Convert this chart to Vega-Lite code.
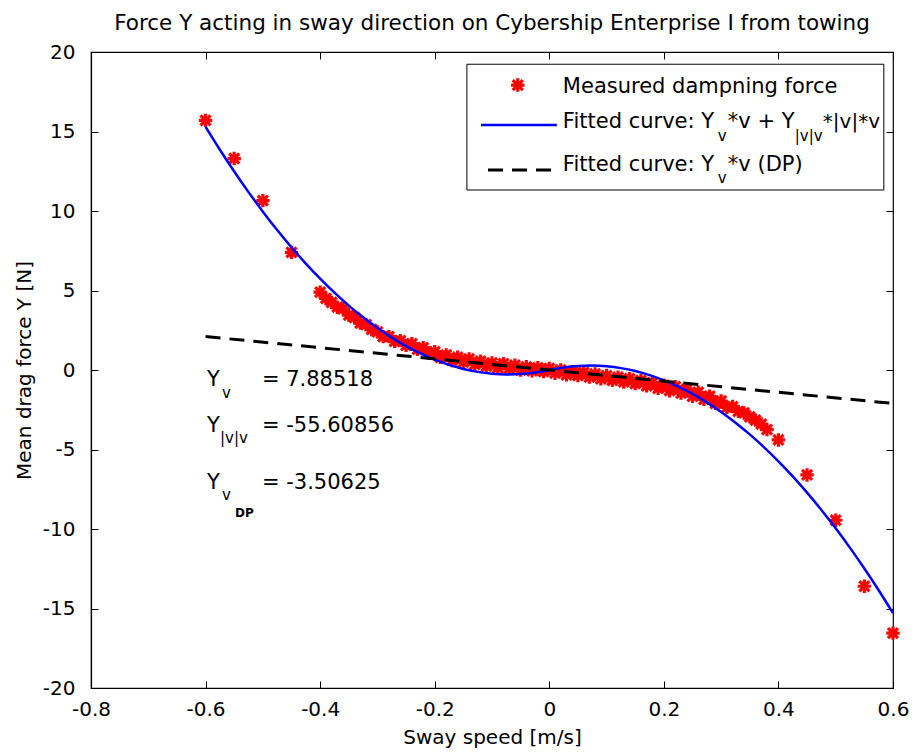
{
  "$schema": "https://vega.github.io/schema/vega-lite/v6.json",
  "width": 802,
  "height": 636,
  "autosize": {"type": "none"},
  "padding": {"left": 91, "top": 52, "right": 19, "bottom": 66},
  "background": "white",
  "title": {"text": "Force Y acting in sway direction on Cybership Enterprise I from towing", "font": "DejaVu Sans", "fontSize": 21.5, "fontWeight": "normal", "color": "black", "offset": 8},
  "datasets": {
    "measured": [
      {"v": -0.60, "Y": 15.7}, {"v": -0.55, "Y": 13.3}, {"v": -0.50, "Y": 10.65}, {"v": -0.45, "Y": 7.4},
      {"v": -0.40, "Y": 4.9}, {"v": -0.39, "Y": 4.5}, {"v": -0.38, "Y": 4.25}, {"v": -0.37, "Y": 3.95}, {"v": -0.36, "Y": 3.85}, {"v": -0.35, "Y": 3.45}, {"v": -0.34, "Y": 3.3},
      {"v": -0.33, "Y": 2.95}, {"v": -0.32, "Y": 2.85}, {"v": -0.31, "Y": 2.55}, {"v": -0.30, "Y": 2.4}, {"v": -0.29, "Y": 2.1}, {"v": -0.28, "Y": 2.1}, {"v": -0.27, "Y": 1.8}, {"v": -0.26, "Y": 1.85},
      {"v": -0.25, "Y": 1.55}, {"v": -0.24, "Y": 1.65}, {"v": -0.23, "Y": 1.3}, {"v": -0.22, "Y": 1.4}, {"v": -0.21, "Y": 1.05}, {"v": -0.20, "Y": 1.15}, {"v": -0.19, "Y": 0.8}, {"v": -0.18, "Y": 0.95},
      {"v": -0.17, "Y": 0.6}, {"v": -0.16, "Y": 0.8}, {"v": -0.15, "Y": 0.5}, {"v": -0.14, "Y": 0.7}, {"v": -0.13, "Y": 0.35}, {"v": -0.12, "Y": 0.55}, {"v": -0.11, "Y": 0.25}, {"v": -0.10, "Y": 0.45},
      {"v": -0.09, "Y": 0.15}, {"v": -0.08, "Y": 0.4}, {"v": -0.07, "Y": 0.1}, {"v": -0.06, "Y": 0.3}, {"v": -0.05, "Y": 0.0}, {"v": -0.04, "Y": 0.2}, {"v": -0.03, "Y": -0.05}, {"v": -0.02, "Y": 0.15},
      {"v": -0.01, "Y": -0.1}, {"v": 0.00, "Y": 0.1}, {"v": 0.01, "Y": -0.2}, {"v": 0.02, "Y": 0.0}, {"v": 0.03, "Y": -0.3}, {"v": 0.04, "Y": -0.1}, {"v": 0.05, "Y": -0.35}, {"v": 0.06, "Y": -0.15},
      {"v": 0.07, "Y": -0.45}, {"v": 0.08, "Y": -0.25}, {"v": 0.09, "Y": -0.55}, {"v": 0.10, "Y": -0.35}, {"v": 0.11, "Y": -0.65}, {"v": 0.12, "Y": -0.45}, {"v": 0.13, "Y": -0.75}, {"v": 0.14, "Y": -0.55},
      {"v": 0.15, "Y": -0.85}, {"v": 0.16, "Y": -0.65}, {"v": 0.17, "Y": -1.0}, {"v": 0.18, "Y": -0.8}, {"v": 0.19, "Y": -1.15}, {"v": 0.20, "Y": -0.95}, {"v": 0.21, "Y": -1.3}, {"v": 0.22, "Y": -1.05},
      {"v": 0.23, "Y": -1.45}, {"v": 0.24, "Y": -1.2}, {"v": 0.25, "Y": -1.65}, {"v": 0.26, "Y": -1.4}, {"v": 0.27, "Y": -1.85}, {"v": 0.28, "Y": -1.65}, {"v": 0.29, "Y": -2.1}, {"v": 0.30, "Y": -1.95},
      {"v": 0.31, "Y": -2.35}, {"v": 0.32, "Y": -2.3}, {"v": 0.33, "Y": -2.6}, {"v": 0.34, "Y": -2.7}, {"v": 0.35, "Y": -2.95}, {"v": 0.36, "Y": -3.15}, {"v": 0.37, "Y": -3.4}, {"v": 0.38, "Y": -3.75},
      {"v": 0.40, "Y": -4.4}, {"v": 0.45, "Y": -6.6}, {"v": 0.50, "Y": -9.45}, {"v": 0.55, "Y": -13.6},
      {"v": 0.60, "Y": -16.55}
    ],
    "fitted": [
      {"v": -0.6, "Y": 15.288}, {"v": -0.575, "Y": 13.852}, {"v": -0.55, "Y": 12.485}, {"v": -0.525, "Y": 11.187},
      {"v": -0.5, "Y": 9.960}, {"v": -0.475, "Y": 8.801}, {"v": -0.45, "Y": 7.712}, {"v": -0.425, "Y": 6.693},
      {"v": -0.4, "Y": 5.743}, {"v": -0.375, "Y": 4.863}, {"v": -0.35, "Y": 4.052}, {"v": -0.325, "Y": 3.311},
      {"v": -0.3, "Y": 2.639}, {"v": -0.275, "Y": 2.037}, {"v": -0.25, "Y": 1.504}, {"v": -0.225, "Y": 1.041},
      {"v": -0.2, "Y": 0.647}, {"v": -0.175, "Y": 0.323}, {"v": -0.15, "Y": 0.068}, {"v": -0.125, "Y": -0.117},
      {"v": -0.1, "Y": -0.232}, {"v": -0.075, "Y": -0.279}, {"v": -0.05, "Y": -0.255}, {"v": -0.025, "Y": -0.162},
      {"v": 0, "Y": 0},
      {"v": 0.025, "Y": 0.162}, {"v": 0.05, "Y": 0.255}, {"v": 0.075, "Y": 0.279}, {"v": 0.1, "Y": 0.232},
      {"v": 0.125, "Y": 0.117}, {"v": 0.15, "Y": -0.068}, {"v": 0.175, "Y": -0.323}, {"v": 0.2, "Y": -0.647},
      {"v": 0.225, "Y": -1.041}, {"v": 0.25, "Y": -1.504}, {"v": 0.275, "Y": -2.037}, {"v": 0.3, "Y": -2.639},
      {"v": 0.325, "Y": -3.311}, {"v": 0.35, "Y": -4.052}, {"v": 0.375, "Y": -4.863}, {"v": 0.4, "Y": -5.743},
      {"v": 0.425, "Y": -6.693}, {"v": 0.45, "Y": -7.712}, {"v": 0.475, "Y": -8.801}, {"v": 0.5, "Y": -9.960},
      {"v": 0.525, "Y": -11.187}, {"v": 0.55, "Y": -12.485}, {"v": 0.575, "Y": -13.852}, {"v": 0.6, "Y": -15.288}
    ],
    "dp": [
      {"v": -0.6, "Y": 2.104}, {"v": 0.6, "Y": -2.104}
    ],
    "one": [{}]
  },
  "layer": [
    {
      "data": {"name": "measured"},
      "mark": {"type": "point", "shape": "M-1,0L1,0M0,-1L0,1M-0.75,-0.75L0.75,0.75M-0.75,0.75L0.75,-0.75", "filled": false, "stroke": "#ff0000", "strokeWidth": 3.2, "size": 180, "opacity": 1},
      "encoding": {
        "x": {"field": "v", "type": "quantitative", "scale": {"domain": [-0.8, 0.6], "nice": false, "zero": false},
              "axis": {"orient": "bottom", "values": [-0.8, -0.6, -0.4, -0.2, 0, 0.2, 0.4, 0.6], "labelExpr": "toString(datum.value)", "title": "Sway speed [m/s]", "titlePadding": 8, "labelPadding": 18}},
        "y": {"field": "Y", "type": "quantitative", "scale": {"domain": [-20, 20], "nice": false, "zero": false},
              "axis": {"orient": "left", "values": [-20, -15, -10, -5, 0, 5, 10, 15, 20], "labelExpr": "toString(datum.value)", "title": "Mean drag force Y [N]", "titlePadding": 8, "labelPadding": 23}}
      }
    },
    {
      "data": {"name": "fitted"},
      "mark": {"type": "line", "color": "#0000ff", "strokeWidth": 2.5, "interpolate": "monotone"},
      "encoding": {
        "x": {"field": "v", "type": "quantitative", "scale": {"domain": [-0.8, 0.6], "nice": false, "zero": false},
              "axis": {"orient": "top", "values": [-0.8, -0.6, -0.4, -0.2, 0, 0.2, 0.4, 0.6], "labels": false, "domain": false, "title": null}},
        "y": {"field": "Y", "type": "quantitative", "scale": {"domain": [-20, 20], "nice": false, "zero": false},
              "axis": {"orient": "right", "values": [-20, -15, -10, -5, 0, 5, 10, 15, 20], "labels": false, "domain": false, "title": null}}
      }
    },
    {
      "data": {"name": "dp"},
      "mark": {"type": "line", "color": "#000000", "strokeWidth": 3, "strokeDash": [15, 9]},
      "encoding": {
        "x": {"field": "v", "type": "quantitative", "scale": {"domain": [-0.8, 0.6], "nice": false, "zero": false}, "axis": null},
        "y": {"field": "Y", "type": "quantitative", "scale": {"domain": [-20, 20], "nice": false, "zero": false}, "axis": null}
      }
    },
    {
      "data": {"name": "one"},
      "mark": {"type": "rect", "fill": "white", "stroke": "black", "strokeWidth": 1},
      "encoding": {
        "x": {"datum": -0.1438, "type": "quantitative", "scale": {"domain": [-0.8, 0.6], "nice": false, "zero": false}, "axis": null},
        "x2": {"datum": 0.584},
        "y": {"datum": 19.23, "type": "quantitative", "scale": {"domain": [-20, 20], "nice": false, "zero": false}, "axis": null},
        "y2": {"datum": 11.32}
      }
    },
    {
      "data": {"name": "one"},
      "mark": {"type": "point", "shape": "M-1,0L1,0M0,-1L0,1M-0.75,-0.75L0.75,0.75M-0.75,0.75L0.75,-0.75", "filled": false, "stroke": "#ff0000", "strokeWidth": 3.2, "size": 180, "opacity": 1},
      "encoding": {
        "x": {"datum": -0.055, "type": "quantitative", "scale": {"domain": [-0.8, 0.6], "nice": false, "zero": false}, "axis": null},
        "y": {"datum": 17.92, "type": "quantitative", "scale": {"domain": [-20, 20], "nice": false, "zero": false}, "axis": null}
      }
    },
    {
      "data": {"name": "one"},
      "mark": {"type": "rule", "color": "#0000ff", "strokeWidth": 2.5},
      "encoding": {
        "x": {"datum": -0.1193, "type": "quantitative", "scale": {"domain": [-0.8, 0.6], "nice": false, "zero": false}, "axis": null},
        "x2": {"datum": 0.0133},
        "y": {"datum": 15.41, "type": "quantitative", "scale": {"domain": [-20, 20], "nice": false, "zero": false}, "axis": null}
      }
    },
    {
      "data": {"name": "one"},
      "mark": {"type": "rule", "color": "#000000", "strokeWidth": 3, "strokeDash": [15, 9]},
      "encoding": {
        "x": {"datum": -0.107, "type": "quantitative", "scale": {"domain": [-0.8, 0.6], "nice": false, "zero": false}, "axis": null},
        "x2": {"datum": 0.0133},
        "y": {"datum": 12.58, "type": "quantitative", "scale": {"domain": [-20, 20], "nice": false, "zero": false}, "axis": null}
      }
    },
    {"data": {"name": "one"}, "mark": {"type": "text", "text": "Measured dampning force", "align": "left", "baseline": "middle", "font": "DejaVu Sans", "fontSize": 21, "color": "black"},
     "encoding": {"x": {"datum": 0.0237, "type": "quantitative", "scale": {"domain": [-0.8, 0.6], "nice": false, "zero": false}, "axis": null},
                  "y": {"datum": 17.8, "type": "quantitative", "scale": {"domain": [-20, 20], "nice": false, "zero": false}, "axis": null}}},
    {"data": {"name": "one"}, "mark": {"type": "text", "text": "Fitted curve: Y", "align": "left", "baseline": "middle", "font": "DejaVu Sans", "fontSize": 21, "color": "black"},
     "encoding": {"x": {"datum": 0.0237, "type": "quantitative", "scale": {"domain": [-0.8, 0.6], "nice": false, "zero": false}, "axis": null},
                  "y": {"datum": 15.6, "type": "quantitative", "scale": {"domain": [-20, 20], "nice": false, "zero": false}, "axis": null}}},
    {"data": {"name": "one"}, "mark": {"type": "text", "text": "v", "align": "left", "baseline": "middle", "font": "DejaVu Sans", "fontSize": 15, "color": "black"},
     "encoding": {"x": {"datum": 0.2942, "type": "quantitative", "scale": {"domain": [-0.8, 0.6], "nice": false, "zero": false}, "axis": null},
                  "y": {"datum": 14.7, "type": "quantitative", "scale": {"domain": [-20, 20], "nice": false, "zero": false}, "axis": null}}},
    {"data": {"name": "one"}, "mark": {"type": "text", "text": "*v + Y", "align": "left", "baseline": "middle", "font": "DejaVu Sans", "fontSize": 21, "color": "black"},
     "encoding": {"x": {"datum": 0.3117, "type": "quantitative", "scale": {"domain": [-0.8, 0.6], "nice": false, "zero": false}, "axis": null},
                  "y": {"datum": 15.6, "type": "quantitative", "scale": {"domain": [-20, 20], "nice": false, "zero": false}, "axis": null}}},
    {"data": {"name": "one"}, "mark": {"type": "text", "text": "|v|v", "align": "left", "baseline": "middle", "font": "DejaVu Sans", "fontSize": 15, "color": "black"},
     "encoding": {"x": {"datum": 0.4286, "type": "quantitative", "scale": {"domain": [-0.8, 0.6], "nice": false, "zero": false}, "axis": null},
                  "y": {"datum": 14.7, "type": "quantitative", "scale": {"domain": [-20, 20], "nice": false, "zero": false}, "axis": null}}},
    {"data": {"name": "one"}, "mark": {"type": "text", "text": "*|v|*v", "align": "left", "baseline": "middle", "font": "DejaVu Sans", "fontSize": 20, "color": "black"},
     "encoding": {"x": {"datum": 0.4775, "type": "quantitative", "scale": {"domain": [-0.8, 0.6], "nice": false, "zero": false}, "axis": null},
                  "y": {"datum": 15.6, "type": "quantitative", "scale": {"domain": [-20, 20], "nice": false, "zero": false}, "axis": null}}},
    {"data": {"name": "one"}, "mark": {"type": "text", "text": "Fitted curve: Y", "align": "left", "baseline": "middle", "font": "DejaVu Sans", "fontSize": 21, "color": "black"},
     "encoding": {"x": {"datum": 0.0237, "type": "quantitative", "scale": {"domain": [-0.8, 0.6], "nice": false, "zero": false}, "axis": null},
                  "y": {"datum": 12.89, "type": "quantitative", "scale": {"domain": [-20, 20], "nice": false, "zero": false}, "axis": null}}},
    {"data": {"name": "one"}, "mark": {"type": "text", "text": "v", "align": "left", "baseline": "middle", "font": "DejaVu Sans", "fontSize": 15, "color": "black"},
     "encoding": {"x": {"datum": 0.2942, "type": "quantitative", "scale": {"domain": [-0.8, 0.6], "nice": false, "zero": false}, "axis": null},
                  "y": {"datum": 12.1, "type": "quantitative", "scale": {"domain": [-20, 20], "nice": false, "zero": false}, "axis": null}}},
    {"data": {"name": "one"}, "mark": {"type": "text", "text": "*v (DP)", "align": "left", "baseline": "middle", "font": "DejaVu Sans", "fontSize": 21, "color": "black"},
     "encoding": {"x": {"datum": 0.3117, "type": "quantitative", "scale": {"domain": [-0.8, 0.6], "nice": false, "zero": false}, "axis": null},
                  "y": {"datum": 12.89, "type": "quantitative", "scale": {"domain": [-20, 20], "nice": false, "zero": false}, "axis": null}}},
    {"data": {"name": "one"}, "mark": {"type": "text", "text": "Y", "align": "left", "baseline": "middle", "font": "DejaVu Sans", "fontSize": 21, "color": "black"},
     "encoding": {"x": {"datum": -0.5976, "type": "quantitative", "scale": {"domain": [-0.8, 0.6], "nice": false, "zero": false}, "axis": null},
                  "y": {"datum": -0.6, "type": "quantitative", "scale": {"domain": [-20, 20], "nice": false, "zero": false}, "axis": null}}},
    {"data": {"name": "one"}, "mark": {"type": "text", "text": "v", "align": "left", "baseline": "middle", "font": "DejaVu Sans", "fontSize": 15, "color": "black"},
     "encoding": {"x": {"datum": -0.5714, "type": "quantitative", "scale": {"domain": [-0.8, 0.6], "nice": false, "zero": false}, "axis": null},
                  "y": {"datum": -1.45, "type": "quantitative", "scale": {"domain": [-20, 20], "nice": false, "zero": false}, "axis": null}}},
    {"data": {"name": "one"}, "mark": {"type": "text", "text": "= 7.88518", "align": "left", "baseline": "middle", "font": "DejaVu Sans", "fontSize": 21, "color": "black"},
     "encoding": {"x": {"datum": -0.5016, "type": "quantitative", "scale": {"domain": [-0.8, 0.6], "nice": false, "zero": false}, "axis": null},
                  "y": {"datum": -0.6, "type": "quantitative", "scale": {"domain": [-20, 20], "nice": false, "zero": false}, "axis": null}}},
    {"data": {"name": "one"}, "mark": {"type": "text", "text": "Y", "align": "left", "baseline": "middle", "font": "DejaVu Sans", "fontSize": 21, "color": "black"},
     "encoding": {"x": {"datum": -0.5976, "type": "quantitative", "scale": {"domain": [-0.8, 0.6], "nice": false, "zero": false}, "axis": null},
                  "y": {"datum": -3.52, "type": "quantitative", "scale": {"domain": [-20, 20], "nice": false, "zero": false}, "axis": null}}},
    {"data": {"name": "one"}, "mark": {"type": "text", "text": "|v|v", "align": "left", "baseline": "middle", "font": "DejaVu Sans", "fontSize": 15, "color": "black"},
     "encoding": {"x": {"datum": -0.5749, "type": "quantitative", "scale": {"domain": [-0.8, 0.6], "nice": false, "zero": false}, "axis": null},
                  "y": {"datum": -4.28, "type": "quantitative", "scale": {"domain": [-20, 20], "nice": false, "zero": false}, "axis": null}}},
    {"data": {"name": "one"}, "mark": {"type": "text", "text": "= -55.60856", "align": "left", "baseline": "middle", "font": "DejaVu Sans", "fontSize": 21, "color": "black"},
     "encoding": {"x": {"datum": -0.5016, "type": "quantitative", "scale": {"domain": [-0.8, 0.6], "nice": false, "zero": false}, "axis": null},
                  "y": {"datum": -3.52, "type": "quantitative", "scale": {"domain": [-20, 20], "nice": false, "zero": false}, "axis": null}}},
    {"data": {"name": "one"}, "mark": {"type": "text", "text": "Y", "align": "left", "baseline": "middle", "font": "DejaVu Sans", "fontSize": 21, "color": "black"},
     "encoding": {"x": {"datum": -0.5976, "type": "quantitative", "scale": {"domain": [-0.8, 0.6], "nice": false, "zero": false}, "axis": null},
                  "y": {"datum": -7.1, "type": "quantitative", "scale": {"domain": [-20, 20], "nice": false, "zero": false}, "axis": null}}},
    {"data": {"name": "one"}, "mark": {"type": "text", "text": "v", "align": "left", "baseline": "middle", "font": "DejaVu Sans", "fontSize": 15, "color": "black"},
     "encoding": {"x": {"datum": -0.5714, "type": "quantitative", "scale": {"domain": [-0.8, 0.6], "nice": false, "zero": false}, "axis": null},
                  "y": {"datum": -7.86, "type": "quantitative", "scale": {"domain": [-20, 20], "nice": false, "zero": false}, "axis": null}}},
    {"data": {"name": "one"}, "mark": {"type": "text", "text": "DP", "align": "left", "baseline": "middle", "font": "DejaVu Sans", "fontSize": 12, "fontWeight": "bold", "color": "black"},
     "encoding": {"x": {"datum": -0.5487, "type": "quantitative", "scale": {"domain": [-0.8, 0.6], "nice": false, "zero": false}, "axis": null},
                  "y": {"datum": -8.99, "type": "quantitative", "scale": {"domain": [-20, 20], "nice": false, "zero": false}, "axis": null}}},
    {"data": {"name": "one"}, "mark": {"type": "text", "text": "= -3.50625", "align": "left", "baseline": "middle", "font": "DejaVu Sans", "fontSize": 21, "color": "black"},
     "encoding": {"x": {"datum": -0.5016, "type": "quantitative", "scale": {"domain": [-0.8, 0.6], "nice": false, "zero": false}, "axis": null},
                  "y": {"datum": -7.1, "type": "quantitative", "scale": {"domain": [-20, 20], "nice": false, "zero": false}, "axis": null}}}
  ],
  "resolve": {"axis": {"x": "independent", "y": "independent"}},
  "config": {
    "view": {"stroke": "black", "strokeWidth": 1.2},
    "axis": {
      "grid": false,
      "domainColor": "black",
      "domainWidth": 1.2,
      "tickColor": "black",
      "tickSize": -7,
      "tickWidth": 1,
      "labelFont": "DejaVu Sans",
      "labelFontSize": 20,
      "labelColor": "black",
      "labelFlush": false,
      "labelOverlap": false,
      "labelBound": false,
      "titleFont": "DejaVu Sans",
      "titleFontSize": 20,
      "titleFontWeight": "normal",
      "titleColor": "black"
    }
  }
}
